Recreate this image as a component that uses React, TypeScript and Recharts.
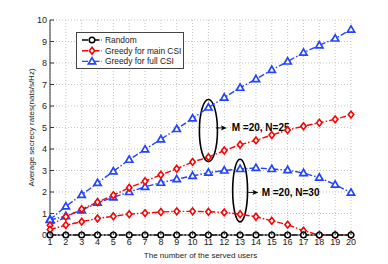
import React from 'react';
import {
  LineChart, Line, XAxis, YAxis, CartesianGrid, Legend,
  ReferenceArea, ReferenceLine, ReferenceDot,
} from 'recharts';

const users = [1, 2, 3, 4, 5, 6, 7, 8, 9, 10, 11, 12, 13, 14, 15, 16, 17, 18, 19, 20];
const random = [0, 0, 0, 0, 0, 0, 0, 0, 0, 0, 0, 0, 0, 0, 0, 0, 0, 0, 0, 0];
const mainN25 = [0.45, 0.85, 1.2, 1.53, 1.85, 2.2, 2.5, 2.8, 3.08, 3.4, 3.62, 3.93, 4.2, 4.4, 4.65, 4.88, 5.06, 5.22, 5.38, 5.6];
const mainN30 = [0.25, 0.46, 0.62, 0.77, 0.87, 0.97, 1.02, 1.07, 1.1, 1.1, 1.08, 1.05, 0.97, 0.85, 0.66, 0.48, 0.2, 0, 0, 0];
const fullN25 = [0.72, 1.33, 1.87, 2.42, 2.96, 3.5, 3.98, 4.45, 4.93, 5.42, 5.93, 6.39, 6.85, 7.25, 7.68, 8.07, 8.48, 8.82, 9.14, 9.55];
const fullN30 = [0.7, 0.88, 1.15, 1.5, 1.75, 2.0, 2.24, 2.43, 2.6, 2.75, 2.9, 3.0, 3.07, 3.12, 3.07, 3.02, 2.88, 2.67, 2.34, 1.97];
const yTicks = [0, 1, 2, 3, 4, 5, 6, 7, 8, 9, 10];
const legendLabels = ['Random', 'Greedy for main CSI', 'Greedy for full CSI'];
const noteLabels = ['M =20, N=25', 'M =20, N=30'];

const data = users.map((u, i) => ({
  u,
  random: random[i],
  mainN25: mainN25[i],
  mainN30: mainN30[i],
  fullN25: fullN25[i],
  fullN30: fullN30[i],
}));

const FONT = '"Liberation Sans", Arial, sans-serif';
const DASH = '6 2 1.5 2';
const RED = '#ff0000';
const BLUE = '#2244ff';
const AXIS = '#333';

// markers
// eslint-disable-next-line @typescript-eslint/no-explicit-any
const Circle = (p: any) => (p.cx == null ? null : (
  <circle key={p.key} cx={p.cx} cy={p.cy} r={2.8} fill="#fff" stroke="#000" strokeWidth={1.5} />
));
// eslint-disable-next-line @typescript-eslint/no-explicit-any
const Diamond = (p: any) => (p.cx == null ? null : (
  <path key={p.key} d={`M${p.cx},${p.cy - 3.4}L${p.cx + 2.7},${p.cy}L${p.cx},${p.cy + 3.4}L${p.cx - 2.7},${p.cy}Z`}
    fill="#fff" stroke={RED} strokeWidth={1.6} />
));
// eslint-disable-next-line @typescript-eslint/no-explicit-any
const Triangle = (p: any) => (p.cx == null ? null : (
  <path key={p.key} d={`M${p.cx},${p.cy - 3.8}L${p.cx + 3.6},${p.cy + 2.5}L${p.cx - 3.6},${p.cy + 2.5}Z`}
    fill="#fff" stroke={BLUE} strokeWidth={1.7} />
));

// ticks (labels outside, tick marks inside, MATLAB style)
// eslint-disable-next-line @typescript-eslint/no-explicit-any
const BottomTick = (p: any) => (
  <g>
    <line x1={p.x} x2={p.x} y1={p.y - 3} y2={p.y - 7} stroke={AXIS} />
    <text x={p.x} y={p.y} dy="0.75em" textAnchor="middle" fontSize={9} fill="#222" fontFamily={FONT}>
      {p.payload.value}
    </text>
  </g>
);
// eslint-disable-next-line @typescript-eslint/no-explicit-any
const LeftTick = (p: any) => (
  <g>
    <line x1={p.x + 3} x2={p.x + 7} y1={p.y} y2={p.y} stroke={AXIS} />
    <text x={p.x} y={p.y} dy="0.35em" textAnchor="end" fontSize={9} fill="#222" fontFamily={FONT}>
      {p.payload.value}
    </text>
  </g>
);
// eslint-disable-next-line @typescript-eslint/no-explicit-any
const TopTick = (p: any) => <line x1={p.x} x2={p.x} y1={p.y} y2={p.y + 4} stroke={AXIS} />;
// eslint-disable-next-line @typescript-eslint/no-explicit-any
const RightTick = (p: any) => <line x1={p.x} x2={p.x - 4} y1={p.y} y2={p.y} stroke={AXIS} />;

// annotations
// eslint-disable-next-line @typescript-eslint/no-explicit-any
const EllipseShape = (p: any) => (
  <ellipse cx={p.x + p.width / 2} cy={p.y + p.height / 2} rx={p.width / 2} ry={p.height / 2}
    fill="none" stroke="#000" strokeWidth={1.6} />
);
// eslint-disable-next-line @typescript-eslint/no-explicit-any
const ArrowShape = (p: any) => (
  <g>
    <line x1={p.x1} y1={p.y1} x2={p.x2 - 4} y2={p.y2} stroke="#000" strokeWidth={0.9} />
    <path d={`M${p.x2},${p.y2}L${p.x2 - 6},${p.y2 - 2.6}L${p.x2 - 4.5},${p.y2}L${p.x2 - 6},${p.y2 + 2.6}Z`} fill="#000" />
  </g>
);
const noteText = (label: string) => {
  // eslint-disable-next-line @typescript-eslint/no-explicit-any
  const Note = (p: any) => (
    <text x={p.cx} y={p.cy} dy="0.35em" fontSize={10} fontWeight="bold" fill="#000" fontFamily={FONT}>
      {label}
    </text>
  );
  return Note;
};

const LegendBox = () => {
  const colors = ['#000', RED, BLUE];
  const marks = [Circle, Diamond, Triangle];
  return (
    <svg width={110} height={37} style={{ display: 'block', overflow: 'visible' }}>
      <rect x={0.5} y={0.5} width={107} height={36} fill="#fff" stroke="#444" />
      {legendLabels.map((l, i) => {
        const y = 8 + i * 10.7;
        const M = marks[i];
        return (
          <g key={l}>
            <line x1={6} x2={26} y1={y} y2={y} stroke={colors[i]} strokeWidth={1.4} strokeDasharray={DASH} />
            <M cx={16} cy={y} />
            <text x={29} y={y} dy="0.35em" fontSize={8.4} fill="#222" fontFamily={FONT}>{l}</text>
          </g>
        );
      })}
    </svg>
  );
};

export default function App() {
  return (
    <div style={{ position: 'absolute', left: 0, top: 0, background: '#fff' }}>
      <LineChart width={388} height={264} data={data} margin={{ top: 20, right: 37, bottom: 0, left: 0 }}>
        <CartesianGrid stroke="#c4c4c4" strokeDasharray="1 2" />
        <XAxis dataKey="u" type="number" domain={[1, 20]} ticks={users} interval={0}
          height={29} tickSize={0} tickMargin={3} tick={<BottomTick />} stroke={AXIS}
          label={{ value: 'The number of the served users', position: 'insideBottom', offset: 6,
            style: { fontSize: 8, fill: '#222', fontFamily: FONT } }} />
        <XAxis xAxisId="top" orientation="top" type="number" domain={[1, 20]} ticks={users} interval={0}
          height={0} tickSize={0} tickMargin={0} tick={<TopTick />} stroke={AXIS} />
        <YAxis type="number" domain={[0, 10]} ticks={yTicks} interval={0} width={50}
          tickSize={0} tickMargin={3} tick={<LeftTick />} stroke={AXIS}
          label={{ value: 'Average secrecy rates(nats/s/Hz)', angle: -90, position: 'center', dx: 6,
            style: { fontSize: 8, fill: '#222', fontFamily: FONT } }} />
        <YAxis yAxisId="right" orientation="right" type="number" domain={[0, 10]} ticks={yTicks} interval={0}
          width={0} tickSize={0} tickMargin={0} tick={<RightTick />} stroke={AXIS} />
        <Legend verticalAlign="middle" align="center" layout="horizontal" content={<LegendBox />}
          wrapperStyle={{ position: 'absolute', left: 76, top: 32, width: 110, height: 37 }} />

        <Line dataKey="fullN25" stroke={BLUE} strokeWidth={1.4} strokeDasharray={DASH} dot={Triangle} isAnimationActive={false} />
        <Line dataKey="fullN30" stroke={BLUE} strokeWidth={1.4} strokeDasharray={DASH} dot={Triangle} isAnimationActive={false} />
        <Line dataKey="mainN25" stroke={RED} strokeWidth={1.4} strokeDasharray={DASH} dot={Diamond} isAnimationActive={false} />
        <Line dataKey="mainN30" stroke={RED} strokeWidth={1.4} strokeDasharray={DASH} dot={Diamond} isAnimationActive={false} />
        <Line dataKey="random" stroke="#000" strokeWidth={1.4} strokeDasharray={DASH} dot={Circle} isAnimationActive={false} />

        <ReferenceArea x1={10.43} x2={11.57} y1={3.41} y2={6.3} shape={EllipseShape} />
        <ReferenceArea x1={12.53} x2={13.47} y1={0.61} y2={3.52} shape={EllipseShape} />
        <ReferenceLine segment={[{ x: 11.48, y: 4.98 }, { x: 12.16, y: 4.98 }]} shape={ArrowShape} />
        <ReferenceLine segment={[{ x: 13.52, y: 1.98 }, { x: 14.15, y: 1.98 }]} shape={ArrowShape} />
        <ReferenceDot x={12.47} y={4.98} r={0} shape={noteText(noteLabels[0])} />
        <ReferenceDot x={14.36} y={1.98} r={0} shape={noteText(noteLabels[1])} />
      </LineChart>
    </div>
  );
}
